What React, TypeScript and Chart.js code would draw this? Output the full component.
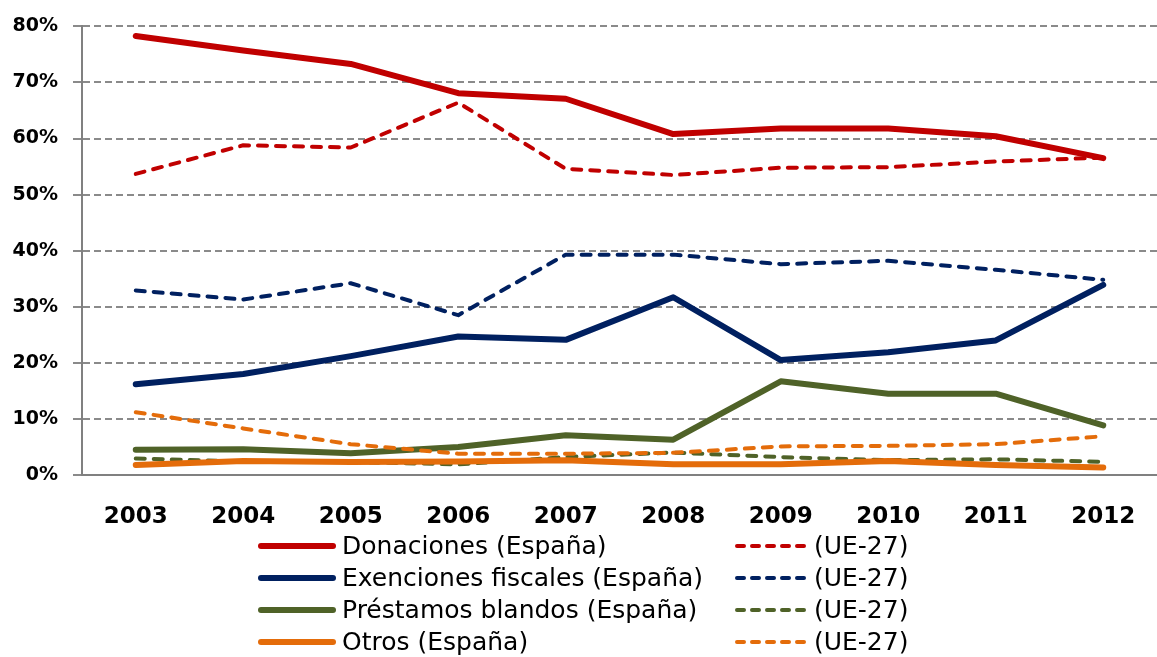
import React, { useEffect, useRef } from "react";
import { Chart, registerables } from "chart.js";

Chart.register(...registerables);

const years = ["2003", "2004", "2005", "2006", "2007", "2008", "2009", "2010", "2011", "2012"];
const yTicks = [0, 10, 20, 30, 40, 50, 60, 70, 80];

const donacionesES = [78.3, 75.7, 73.3, 68.1, 67.1, 60.8, 61.8, 61.8, 60.4, 56.5];
const donacionesUE = [53.7, 58.8, 58.4, 66.4, 54.6, 53.5, 54.8, 54.9, 55.9, 56.6];
const exencionesES = [16.2, 18.0, 21.2, 24.7, 24.1, 31.7, 20.5, 21.9, 24.0, 33.9];
const exencionesUE = [32.9, 31.3, 34.2, 28.5, 39.3, 39.3, 37.6, 38.2, 36.6, 34.8];
const prestamosES = [4.5, 4.6, 3.9, 5.0, 7.1, 6.3, 16.7, 14.5, 14.5, 8.85];
const prestamosUE = [2.95, 2.4, 2.3, 1.9, 3.2, 4.0, 3.2, 2.65, 2.8, 2.35];
const otrosES = [1.8, 2.5, 2.3, 2.4, 2.65, 1.9, 1.9, 2.5, 1.8, 1.35];
const otrosUE = [11.2, 8.3, 5.5, 3.8, 3.8, 3.95, 5.1, 5.2, 5.5, 6.9];

const seriesLabelsES = ["Donaciones (España)", "Exenciones fiscales (España)", "Préstamos blandos (España)", "Otros (España)"];
const seriesLabelUE = "(UE-27)";

const RED = "#C00000";
const NAVY = "#002060";
const GREEN = "#4F6228";
const ORANGE = "#E46C0A";
const colors = [RED, NAVY, GREEN, ORANGE];

const FONT = "'DejaVu Sans'";
const W = 1157;
const H = 657;

const legendPlugin = {
  id: "customLegend",
  afterDraw(chart: any) {
    const ctx = chart.ctx;
    ctx.save();
    const rowsY = [546, 578, 610, 642];
    ctx.font = "25px " + FONT;
    ctx.fillStyle = "#000";
    ctx.textBaseline = "middle";
    ctx.textAlign = "left";
    for (let i = 0; i < 4; i++) {
      const y = rowsY[i];
      ctx.beginPath();
      ctx.setLineDash([]);
      ctx.lineWidth = 6;
      ctx.lineCap = "round";
      ctx.strokeStyle = colors[i];
      ctx.moveTo(261, y);
      ctx.lineTo(333, y);
      ctx.stroke();
      ctx.fillText(seriesLabelsES[i], 342, y + 1);
      ctx.beginPath();
      ctx.setLineDash([7, 8]);
      ctx.lineWidth = 4;
      ctx.lineCap = "round";
      ctx.moveTo(737, y);
      ctx.lineTo(808, y);
      ctx.stroke();
      ctx.setLineDash([]);
      ctx.fillText(seriesLabelUE, 814, y + 1);
    }
    ctx.restore();
  },
};

export default function App() {
  const ref = useRef<HTMLCanvasElement | null>(null);

  useEffect(() => {
    let chart: any = null;
    let cancelled = false;
    const solid = (data: number[], color: string, order: number) => ({
      data,
      borderColor: color,
      backgroundColor: color,
      borderWidth: 6,
      pointRadius: 0,
      pointHoverRadius: 0,
      tension: 0,
      borderCapStyle: "round",
      borderJoinStyle: "round",
      fill: false,
      order,
    });
    const dashed = (data: number[], color: string, order: number) => ({
      data,
      borderColor: color,
      backgroundColor: color,
      borderWidth: 4,
      borderDash: [9, 9],
      pointRadius: 0,
      pointHoverRadius: 0,
      tension: 0,
      borderCapStyle: "round",
      borderJoinStyle: "round",
      fill: false,
      order,
    });
    const build = () => {
      if (cancelled || !ref.current) return;
      chart = new Chart(ref.current, {
        type: "line",
        data: {
          labels: years,
          datasets: [
            { label: seriesLabelsES[0], ...solid(donacionesES, RED, 8) },
            { label: seriesLabelUE, ...dashed(donacionesUE, RED, 7) },
            { label: seriesLabelsES[1], ...solid(exencionesES, NAVY, 6) },
            { label: seriesLabelUE, ...dashed(exencionesUE, NAVY, 5) },
            { label: seriesLabelsES[2], ...solid(prestamosES, GREEN, 4) },
            { label: seriesLabelUE, ...dashed(prestamosUE, GREEN, 3) },
            { label: seriesLabelsES[3], ...solid(otrosES, ORANGE, 2) },
            { label: seriesLabelUE, ...dashed(otrosUE, ORANGE, 1) },
          ] as any,
        },
        options: {
          responsive: false,
          animation: false,
          layout: { autoPadding: false, padding: { top: 23, right: 0, left: 0, bottom: 0 } },
          plugins: {
            legend: { display: false },
            tooltip: { enabled: false },
            title: { display: false },
          },
          scales: {
            x: {
              offset: true,
              grid: { display: false },
              border: { display: true, color: "#808080", width: 2 },
              ticks: {
                color: "#000",
                font: { family: FONT, size: 23, weight: "bold" },
                padding: 20,
                maxRotation: 0,
              },
              afterFit: (scale: any) => {
                scale.height = H - 475;
              },
            },
            y: {
              min: 0,
              max: 80,
              afterBuildTicks: (scale: any) => {
                scale.ticks = yTicks.map((v) => ({ value: v }));
              },
              grid: {
                color: "#8a8a8a",
                lineWidth: 2,
                tickLength: 9,
                drawTicks: true,
              },
              border: { display: true, color: "#808080", width: 2, dash: [7, 4] },
              ticks: {
                color: "#000",
                font: { family: FONT, size: 19, weight: "bold" },
                padding: 15,
                callback: (v: any) => v + "%",
              },
              afterFit: (scale: any) => {
                scale.width = 82;
              },
            },
          },
        },
        plugins: [legendPlugin],
      });
    };
    const fontsApi: any = (document as any).fonts;
    if (fontsApi && fontsApi.load) {
      Promise.all([
        fontsApi.load("bold 23px 'DejaVu Sans'"),
        fontsApi.load("bold 19px 'DejaVu Sans'"),
        fontsApi.load("25px 'DejaVu Sans'"),
      ])
        .catch(() => null)
        .then(build);
    } else {
      build();
    }
    return () => {
      cancelled = true;
      if (chart) chart.destroy();
    };
  }, []);

  return (
    <div style={{ position: "fixed", left: 0, top: 0, width: W, height: H, background: "#fff" }}>
      <canvas ref={ref} width={W} height={H} style={{ display: "block" }} />
    </div>
  );
}
